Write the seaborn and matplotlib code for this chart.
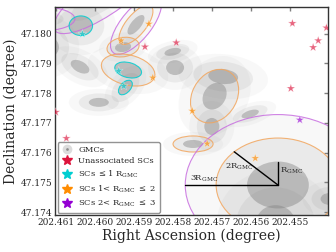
import numpy as np
import pandas as pd
import matplotlib
matplotlib.use("Agg")
import matplotlib.pyplot as plt
from matplotlib.patches import Ellipse
from matplotlib.lines import Line2D
from matplotlib.ticker import MultipleLocator, FormatStrFormatter
import seaborn as sns

# ---------- GMC catalogue (deg) ----------
gmc_ra  = [202.46138, 202.45972, 202.46036, 202.46118, 202.45895, 202.45928,
           202.46038, 202.45915, 202.45922, 202.45990, 202.45801, 202.45795,
           202.45672, 202.45694, 202.45701, 202.45749, 202.45603, 202.45532,
           202.45538, 202.45400]
gmc_dec = [47.18050, 47.18130, 47.18027, 47.17955, 47.18030, 47.17955,
           47.17889, 47.17878, 47.17819, 47.17769, 47.17939, 47.17886,
           47.17856, 47.17790, 47.17688, 47.17629, 47.17730, 47.17491,
           47.17363, 47.17444]
gmc_a   = [0.00029, 0.00059, 0.00030, 0.00026, 0.00037, 0.00021,
           0.000285, 0.00036, 0.000266, 0.000256, 0.00022, 0.00023,
           0.000385, 0.00046, 0.000192, 0.000256, 0.00024, 0.00079,
           0.00050, 0.00023]
gmc_b   = [0.000135, 0.00019, 0.00033, 0.00034, 0.00014, 0.00016,
           0.00017, 0.000246, 0.000143, 0.000151, 0.00012, 0.00025,
           0.00025, 0.000294, 0.000286, 0.000135, 0.000115, 0.00079,
           0.00060, 0.00020]
gmc_pa  = [0, 136, 0, 0, 119, -19, 43, 25, 118, 0, -19, 0, 10, 105, 0, 0, -26, 0, 0, 0]
ring1   = [0, 0, 1, 0, 0, 0, 0, 1, 1, 0, 0, 0, 0, 0, 0, 0, 0, 0, 0, 0]
ring2   = [0, 0, 0, 0, 1, 1, 0, 1, 0, 0, 0, 0, 0, 1, 0, 1, 0, 1, 0, 0]
ring3   = [1, 1, 0, 0, 1, 0, 0, 0, 0, 0, 0, 0, 0, 0, 0, 0, 0, 1, 0, 0]

# ---------- star clusters ----------
sc_ra  = [202.45495, 202.45408, 202.45429, 202.45442, 202.45499, 202.45872,
          202.45792, 202.46100, 202.46073,
          202.46032, 202.45939, 202.45926,
          202.45862, 202.45933, 202.45852, 202.45751, 202.45713, 202.45590,
          202.45476]
sc_dec = [47.18035, 47.18020, 47.17977, 47.17954, 47.17816, 47.17956,
          47.17970, 47.17736, 47.17648,
          47.17999, 47.17875, 47.17824,
          47.18033, 47.17977, 47.17852, 47.17740, 47.17630, 47.17581,
          47.17710]
sc_cls = ["un"] * 9 + ["r1"] * 3 + ["r2"] * 6 + ["r3"]

big_gmc = 17   # GMC used for the R / 2R / 3R sketch

sns.set_style("white")
plt.rcParams["font.family"] = ["DejaVu Serif"]
plt.rcParams["mathtext.fontset"] = "dejavuserif"

fig, ax = plt.subplots(figsize=(3.36, 2.52), dpi=100)
fig.subplots_adjust(left=55/336, right=328/336, bottom=37/252, top=245/252)

# GMC footprints: 1R core + 2R and 3R halos
for i in range(len(gmc_ra)):
    for k, al in [(3, 0.05), (2, 0.11), (1, 0.42)]:
        ax.add_patch(Ellipse((gmc_ra[i], gmc_dec[i]), 2*k*gmc_a[i], 2*k*gmc_b[i],
                             angle=gmc_pa[i], fc="gray", ec="none", alpha=al, zorder=1))
    for k, flag, col in [(1, ring1[i], "darkturquoise"), (2, ring2[i], "#f2a65e"),
                         (3, ring3[i], "#c86ee0")]:
        if flag:
            ax.add_patch(Ellipse((gmc_ra[i], gmc_dec[i]), 2*k*gmc_a[i], 2*k*gmc_b[i],
                                 angle=gmc_pa[i], fc="none", ec=col, lw=0.8,
                                 alpha=0.85, zorder=2))

# star clusters
df = pd.DataFrame({"ra": sc_ra, "dec": sc_dec, "cls": sc_cls})
pal = {"un": "crimson", "r1": "darkturquoise", "r2": "darkorange", "r3": "darkviolet"}
sns.scatterplot(data=df, x="ra", y="dec", hue="cls", palette=pal, marker="*",
                s=42, alpha=0.65, linewidth=0.3, legend=False, zorder=4, ax=ax)

# R / 2R / 3R sketch on the big GMC
x0, y0, R = gmc_ra[big_gmc], gmc_dec[big_gmc], gmc_a[big_gmc]
ax.plot([x0, x0 + 3*R], [y0, y0], color="k", lw=1, zorder=5)
ax.plot([x0, x0], [y0, y0 + R], color="k", lw=1, zorder=5)
d = 2*R/np.sqrt(2)
ax.plot([x0, x0 + d], [y0, y0 + d], color="k", lw=1, zorder=5)
ax.text(x0 + 2.4*R, y0 + 0.00004, r"3R$_{\rm GMC}$", fontsize=6, ha="center", va="bottom", zorder=5)
ax.text(x0 - 0.00005, y0 + 0.00047, r"R$_{\rm GMC}$", fontsize=6, ha="left", va="center", zorder=5)
ax.text(x0 + 1.25*R, y0 + 0.00061, r"2R$_{\rm GMC}$", fontsize=6, ha="center", va="center", zorder=5)

ax.set_xlim(202.46102, 202.45404)
ax.set_ylim(47.1739, 47.1809)
ax.xaxis.set_major_locator(MultipleLocator(0.001))
ax.yaxis.set_major_locator(MultipleLocator(0.001))
ax.xaxis.set_major_formatter(FormatStrFormatter("%.3f"))
ax.yaxis.set_major_formatter(FormatStrFormatter("%.3f"))
ax.tick_params(direction="in", top=True, right=True, length=3, width=1,
               color="gray", labelsize=6.5, pad=2)
for sp in ax.spines.values():
    sp.set_color("#333333")
    sp.set_linewidth(1)
ax.set_xlabel("Right Ascension (degree)", fontsize=10, labelpad=1)
ax.set_ylabel("Declination (degree)", fontsize=10, labelpad=2)

handles = [
    Line2D([], [], ls="none", marker="o", mfc="#8c8c8c", mec="#dcdcdc", mew=2.5, ms=4.5),
    Line2D([], [], ls="none", marker="*", color="crimson", ms=7),
    Line2D([], [], ls="none", marker="*", color="darkturquoise", ms=7),
    Line2D([], [], ls="none", marker="*", color="darkorange", ms=7),
    Line2D([], [], ls="none", marker="*", color="darkviolet", ms=7),
]
labels = ["GMCs", "Unassociated SCs", r"SCs $\leq$1 R$_{\rm GMC}$",
          r"SCs 1< R$_{\rm GMC}$ $\leq$ 2", r"SCs 2< R$_{\rm GMC}$ $\leq$ 3"]
leg = ax.legend(handles, labels, loc="lower left", fontsize=6, frameon=True,
                fancybox=True, framealpha=0.85, edgecolor="gray", borderpad=0.4,
                labelspacing=0.45, handletextpad=0.6, handlelength=1.5,
                borderaxespad=0.3)
leg.set_zorder(6)

plt.savefig("out.png", dpi=100)
